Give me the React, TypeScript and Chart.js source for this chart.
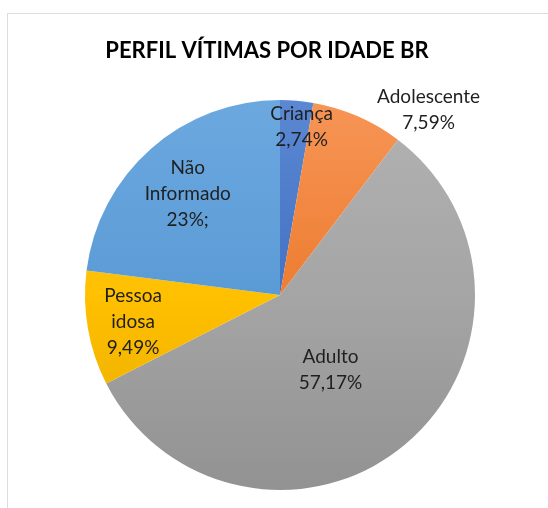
import React, { useEffect, useRef } from "react";
import { Chart, registerables } from "chart.js";

Chart.register(...registerables);

const title = "PERFIL VÍTIMAS POR IDADE BR";
const categories = ["Criança", "Adolescente", "Adulto", "Pessoa idosa", "Não Informado"];
const values = [2.74, 7.59, 57.17, 9.49, 23];
const valueLabels = ["2,74%", "7,59%", "57,17%", "9,49%", "23%;"];
const nameLines = [["Criança"], ["Adolescente"], ["Adulto"], ["Pessoa", "idosa"], ["Não", "Informado"]];
const baseColors = ["#4472C4", "#ED7D31", "#A5A5A5", "#FFC000", "#5B9BD5"];
const topColors = ["#5A88D2", "#F79556", "#B2B2B2", "#FFCB45", "#6CA8E0"];
const bottomColors = ["#3963B0", "#DC6A22", "#929292", "#E6A800", "#3E7EC0"];
const labelRadius = [0.87, 1.215, 0.46, 0.77, 0.7];
const labelShift = [[7, 1], [54, 32], [-7, 6], [1, 1], [-2, 1]];

const FONT = "Lato, 'Open Sans', sans-serif";

const titlePlugin = {
  id: "customTitle",
  afterDraw(chart: any) {
    const ctx = chart.ctx;
    ctx.save();
    ctx.font = `bold 22px ${FONT}`;
    ctx.fillStyle = "#000000";
    ctx.textAlign = "center";
    ctx.textBaseline = "middle";
    ctx.fillText(title, 267, 51);
    ctx.restore();
  },
};

const labelPlugin = {
  id: "sliceLabels",
  afterDatasetsDraw(chart: any) {
    const ctx = chart.ctx;
    const meta = chart.getDatasetMeta(0);
    ctx.save();
    ctx.font = `19px ${FONT}`;
    ctx.fillStyle = "#1f1f1f";
    ctx.textAlign = "center";
    ctx.textBaseline = "middle";
    meta.data.forEach((arc: any, i: number) => {
      const p = arc.getProps(["x", "y", "startAngle", "endAngle", "outerRadius"], true);
      const mid = (p.startAngle + p.endAngle) / 2;
      const r = p.outerRadius * labelRadius[i];
      const x = p.x + Math.cos(mid) * r + labelShift[i][0];
      const y = p.y + Math.sin(mid) * r + labelShift[i][1];
      const lines = [...nameLines[i], valueLabels[i]];
      const lh = 26;
      const y0 = y - ((lines.length - 1) * lh) / 2;
      lines.forEach((t, k) => ctx.fillText(t, x, y0 + k * lh));
    });
    ctx.restore();
  },
};

export default function App() {
  const ref = useRef<HTMLCanvasElement>(null);
  useEffect(() => {
    if (!ref.current) return;
    const chart = new Chart(ref.current, {
      type: "pie",
      data: {
        labels: categories,
        datasets: [
          {
            data: values,
            borderWidth: 0,
            backgroundColor: (c: any) => {
              const ch = c.chart;
              const area = ch.chartArea;
              const i = c.dataIndex;
              if (!area) return baseColors[i];
              const g = ch.ctx.createLinearGradient(0, area.top, 0, area.bottom);
              g.addColorStop(0, topColors[i]);
              g.addColorStop(0.5, baseColors[i]);
              g.addColorStop(1, bottomColors[i]);
              return g;
            },
          },
        ],
      },
      options: {
        animation: false,
        responsive: false,
        maintainAspectRatio: false,
        layout: { padding: { left: 85, top: 100, right: 73, bottom: 18 } },
        plugins: {
          legend: { display: false },
          title: { display: false },
          tooltip: { enabled: false },
        },
      },
      plugins: [titlePlugin, labelPlugin],
    });
    return () => chart.destroy();
  }, []);

  return (
    <div
      style={{
        position: "fixed",
        left: 0,
        top: 0,
        width: 548,
        height: 508,
        overflow: "hidden",
        background: "#ffffff",
      }}
    >
      <div
        style={{
          position: "absolute",
          left: 7,
          top: 13,
          width: 580,
          height: 540,
          border: "1px solid #D9DEE4",
        }}
      />
      <canvas
        ref={ref}
        width={548}
        height={508}
        style={{ position: "absolute", left: 0, top: 0, display: "block" }}
      />
    </div>
  );
}
